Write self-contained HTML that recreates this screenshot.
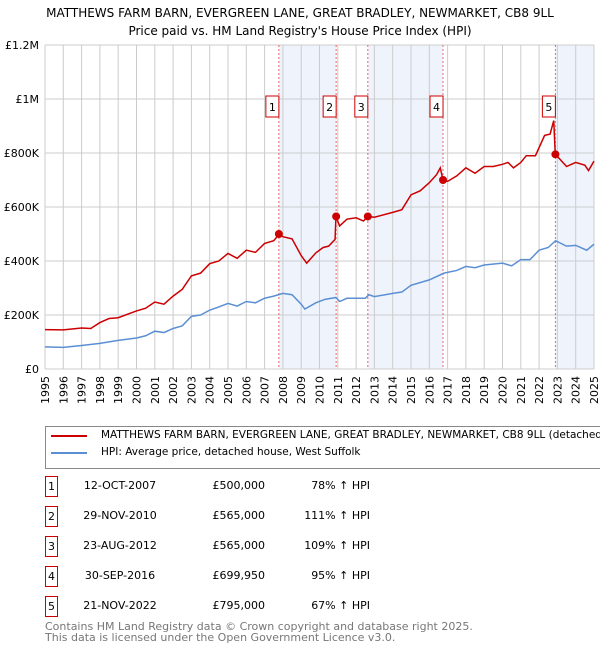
<!DOCTYPE html>
<html><head><meta charset="utf-8"><style>
body{margin:0;background:#fff;font-family:"DejaVu Sans","Liberation Sans",sans-serif;}
#wrap{position:relative;width:600px;height:650px;overflow:hidden;}
.t{position:absolute;font-size:11px;color:#000;white-space:nowrap;}
.box{position:absolute;width:11px;height:19px;border:1px solid #c00;font-size:11px;text-align:center;line-height:19px;}
svg text{font-family:"DejaVu Sans","Liberation Sans",sans-serif;}
</style></head><body>
<div id="wrap">
<svg id="chart" width="600" height="420" style="position:absolute;left:0;top:0"></svg>
<div style="position:absolute;left:45px;top:426px;width:570px;height:41px;border:1px solid #888;">
 <div><div style="position:absolute;left:5px;top:8px;width:36px;height:2px;background:#c00"></div><span class="t" style="left:55px;top:2px;font-size:10.5px">MATTHEWS FARM BARN, EVERGREEN LANE, GREAT BRADLEY, NEWMARKET, CB8 9LL (detached house)</span></div>
 <div><div style="position:absolute;left:5px;top:25px;width:36px;height:2px;background:#5b8fd4"></div><span class="t" style="left:55px;top:19px;font-size:10.5px">HPI: Average price, detached house, West Suffolk</span></div>
</div>
<div id="table"></div>
<div class="t" style="left:45px;top:621px;color:#777;font-size:11px;line-height:11px">Contains HM Land Registry data © Crown copyright and database right 2025.<br>This data is licensed under the Open Government Licence v3.0.</div>
</div>
<script>
const yearsRed=[1995,1996,1997,1997.5,1998,1998.5,1999,2000,2000.5,2001,2001.5,2002,2002.5,2003,2003.5,2004,2004.5,2005,2005.5,2006,2006.5,2007,2007.5,2007.8,2008,2008.5,2009,2009.3,2009.8,2010.2,2010.5,2010.85,2010.9,2011.1,2011.5,2012,2012.4,2012.65,2013,2014,2014.5,2015,2015.5,2016,2016.4,2016.6,2016.75,2017,2017.5,2018,2018.5,2019,2019.5,2020,2020.3,2020.6,2021,2021.3,2021.8,2022,2022.3,2022.6,2022.8,2022.88,2022.9,2023.3,2023.5,2024,2024.5,2024.7,2025];
const valuesRed=[146,145,152,150,172,187,190,215,225,248,240,270,295,345,355,390,400,428,410,440,432,465,475,500,490,482,420,392,430,450,455,480,565,530,555,560,548,565,562,580,590,645,660,690,720,745,700,695,715,745,725,750,750,758,765,745,765,790,790,820,865,870,920,800,795,765,750,765,755,735,770];
const yearsHpi=[1995,1996,1997,1998,1999,2000,2000.5,2001,2001.5,2002,2002.5,2003,2003.5,2004,2004.5,2005,2005.5,2006,2006.5,2007,2007.5,2008,2008.5,2009,2009.2,2009.8,2010.3,2010.9,2011.1,2011.5,2012.5,2012.7,2013,2014,2014.5,2015,2016,2016.8,2017.5,2018,2018.5,2019,2020,2020.5,2021,2021.5,2022,2022.5,2022.9,2023.5,2024,2024.6,2025];
const valuesHpi=[82,80,87,95,106,115,123,140,135,150,160,195,200,218,230,243,233,250,245,262,270,280,275,240,222,245,258,265,250,262,262,275,268,280,285,310,330,355,365,380,375,385,392,382,405,405,440,450,475,455,458,440,462];
const saleLabels=["1","2","3","4","5"];
const saleYears=[2007.78,2010.91,2012.64,2016.75,2022.89];
const salePrices=[500,565,565,699.95,795];
const saleDates=["12-OCT-2007","29-NOV-2010","23-AUG-2012","30-SEP-2016","21-NOV-2022"];
const salePriceText=["£500,000","£565,000","£565,000","£699,950","£795,000"];
const saleHpiText=["78% ↑ HPI","111% ↑ HPI","109% ↑ HPI","95% ↑ HPI","67% ↑ HPI"];
const yTicks=[0,200,400,600,800,1000,1200];
const yTickLabels=["£0","£200K","£400K","£600K","£800K","£1M","£1.2M"];
const xTicks=[1995,1996,1997,1998,1999,2000,2001,2002,2003,2004,2005,2006,2007,2008,2009,2010,2011,2012,2013,2014,2015,2016,2017,2018,2019,2020,2021,2022,2023,2024,2025];

const NS="http://www.w3.org/2000/svg";
const svg=document.getElementById('chart');
const X0=45,X1=594,Y0=369,Y1=45;
const xs=y=>X0+(y-1995)/30*(X1-X0);
const ys=v=>Y0-v/1200*(Y0-Y1);
function mk(tag,attrs,parent){const e=document.createElementNS(NS,tag);for(const k in attrs)e.setAttribute(k,attrs[k]);(parent||svg).appendChild(e);return e;}
let e;
e=mk('text',{x:300,y:17,'text-anchor':'middle','font-size':12,fill:'#000'});e.textContent="MATTHEWS FARM BARN, EVERGREEN LANE, GREAT BRADLEY, NEWMARKET, CB8 9LL";


e=mk('text',{x:300,y:35,'text-anchor':'middle','font-size':12,fill:'#000'});e.textContent="Price paid vs. HM Land Registry's House Price Index (HPI)";


const shades=[[0,1],[2,3],[4,null]];
shades.forEach((s,i)=>{const a=xs(saleYears[s[0]]);const b=s[1]===null?X1:xs(saleYears[s[1]]);
 e=mk('rect',{x:a,y:Y1,width:b-a,height:Y0-Y1,fill:'#eef3fc'});
 
 });
xTicks.forEach(t=>{e=mk('line',{x1:xs(t),x2:xs(t),y1:Y1,y2:Y0,stroke:'#ccc','stroke-width':1});
 
 
 e=mk('text',{transform:`translate(${xs(t)+4},${Y0+7}) rotate(-90)`,'text-anchor':'end','font-size':11,fill:'#000'});e.textContent=t;
 
 });
yTicks.forEach((t,i)=>{e=mk('line',{x1:X0,x2:X1,y1:ys(t),y2:ys(t),stroke:'#ccc','stroke-width':1});
 
 
 e=mk('text',{x:X0-6,y:ys(t)+4,'text-anchor':'end','font-size':11,fill:'#000'});e.textContent=yTickLabels[i];
 
 });
saleYears.forEach((y,i)=>{e=mk('line',{x1:xs(y),x2:xs(y),y1:Y1,y2:Y0,stroke:'#e66','stroke-width':1,'stroke-dasharray':'2,2'});
 
 });
function line(xa,va,col,name){e=mk('polyline',{points:xa.map((x,i)=>xs(x)+','+ys(va[i])).join(' '),fill:'none',stroke:col,'stroke-width':1.5});
 
 }
line(yearsHpi,valuesHpi,'#5b8fd4','hpi-line');
line(yearsRed,valuesRed,'#c00','property-price-line');
saleYears.forEach((y,i)=>{e=mk('circle',{cx:xs(y),cy:ys(salePrices[i]),r:4,fill:'#c00'});
 
 
 e=mk('rect',{x:xs(y)-13,y:96,width:13,height:21,fill:'#fff',stroke:'#c00'});
 
 
 e=mk('text',{x:xs(y)-6.5,y:111,'text-anchor':'middle','font-size':11,fill:'#000'});e.textContent=saleLabels[i];
 
 });
const tb=document.getElementById('table');
saleLabels.forEach((l,i)=>{const top=476+i*30;const row=document.createElement('div');
 
 
 row.innerHTML=`<div class="box" style="left:45px;top:${top}px">${l}</div><span class="t" style="left:75px;width:90px;text-align:center;top:${top+3}px">${saleDates[i]}</span><span class="t" style="left:185px;width:80px;text-align:right;top:${top+3}px">${salePriceText[i]}</span><span class="t" style="left:280px;width:90px;text-align:right;top:${top+3}px">${saleHpiText[i]}</span>`;
 tb.appendChild(row);});
</script>
</body></html>
